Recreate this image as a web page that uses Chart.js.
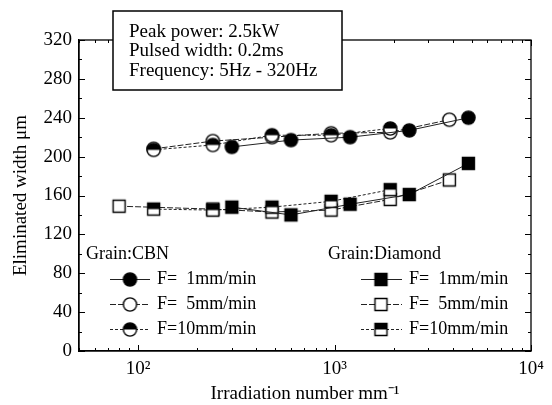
<!DOCTYPE html>
<html>
<head>
<meta charset="utf-8">
<script src="https://cdn.jsdelivr.net/npm/chart.js@4/dist/chart.umd.min.js"></script>
<style>
html,body{margin:0;padding:0;background:#fff;}
#wrap{width:552px;height:405px;}
</style>
</head>
<body>
<div id="wrap"><canvas id="c" width="552" height="405"></canvas></div>
<script>
// ---- data ----
const cbnF1X = [300, 600, 1200, 2400, 4800];
const cbnF1Y = [210, 217, 220, 227, 240];
const cbnF5X = [120, 240, 480, 960, 1920, 3840];
const cbnF5Y = [208, 216, 220, 224, 225, 238];
const cbnF10X = [120, 240, 480, 960, 1920];
const cbnF10Y = [207, 212, 222, 222, 229];
const diaF1X = [300, 600, 1200, 2400, 4800];
const diaF1Y = [148, 140, 151, 161, 193];
const diaF5X = [80, 240, 480, 960, 1920, 3840];
const diaF5Y = [149, 146, 143, 145, 156, 176];
const diaF10X = [120, 240, 480, 960, 1920];
const diaF10Y = [146, 145, 148, 154, 166];
const feedLabels = ['F= 1mm/min', 'F= 5mm/min', 'F=10mm/min'];
const xTickValues = [100, 1000, 10000];
const xTickLabels = ['10\u00B2', '10\u00B3', '10\u2074'];
const infoLines = ['Peak power: 2.5kW', 'Pulsed width: 0.2ms', 'Frequency: 5Hz - 320Hz'];

const FONT = '"Liberation Serif", "Times New Roman", serif';
const FS = 19;
const LFS = 18;

function pts(xs, ys){ return xs.map((x,i)=>({x:x, y:ys[i]})); }

function makeMarker(shape, fill){
  const s = 17, c = document.createElement('canvas');
  c.width = s; c.height = s;
  const g = c.getContext('2d');
  const m = s/2, r = shape === 'circle' ? 6.6 : 6.0;
  g.lineWidth = 1.4; g.strokeStyle = '#000';
  function path(){
    g.beginPath();
    if (shape === 'circle') g.arc(m, m, r, 0, Math.PI*2);
    else g.rect(m-r, m-r, 2*r, 2*r);
  }
  path(); g.fillStyle = fill === 'full' ? '#000' : '#fff'; g.fill();
  if (fill === 'half'){
    g.save(); path(); g.clip();
    g.fillStyle = '#000'; g.fillRect(0, 0, s, m); g.restore();
  }
  path(); g.stroke();
  return c;
}
const mk = {
  cF: makeMarker('circle','full'), cO: makeMarker('circle','open'), cH: makeMarker('circle','half'),
  sF: makeMarker('rect','full'), sO: makeMarker('rect','open'), sH: makeMarker('rect','half')
};
const dashes = [[], [6,2], [3,2]];

function ds(label, xs, ys, marker, dash){
  return { label, data: pts(xs, ys), showLine: true, borderColor: '#222', borderWidth: 1,
    borderDash: dash, pointStyle: marker, pointRadius: 7, pointHoverRadius: 7, backgroundColor:'#000' };
}

const datasets = [
  ds('CBN F=1', cbnF1X, cbnF1Y, mk.cF, dashes[0]),
  ds('Diamond F=1', diaF1X, diaF1Y, mk.sF, dashes[0]),
  ds('CBN F=10', cbnF10X, cbnF10Y, mk.cH, dashes[2]),
  ds('Diamond F=10', diaF10X, diaF10Y, mk.sH, dashes[2]),
  ds('CBN F=5', cbnF5X, cbnF5Y, mk.cO, dashes[1]),
  ds('Diamond F=5', diaF5X, diaF5Y, mk.sO, dashes[1])
];

const decor = {
  id: 'decor',
  afterDraw(chart){
    const g = chart.ctx, a = chart.chartArea;
    const xs = chart.scales.x, ys = chart.scales.y;
    g.save();
    g.strokeStyle = '#000'; g.lineWidth = 1.3;
    g.strokeRect(a.left, a.top, a.right - a.left, a.bottom - a.top);
    g.lineWidth = 1;
    // y ticks (inward, both sides)
    for (let v = 0; v <= 320; v += 20){
      const y = Math.round(ys.getPixelForValue(v)) + 0.5;
      const L = v % 40 === 0 ? 6 : 3;
      g.beginPath();
      g.moveTo(a.left, y); g.lineTo(a.left + L, y);
      g.moveTo(a.right, y); g.lineTo(a.right - L, y);
      g.stroke();
    }
    // x ticks (log, inward, both sides)
    const xt = [];
    for (let d = 10; d <= 10000; d *= 10){
      for (let k = 1; k <= 9; k++){
        const v = d * k;
        if (v >= 50 && v <= 10000) xt.push({v, major: k === 1});
      }
    }
    xt.forEach(t => {
      const x = Math.round(xs.getPixelForValue(t.v)) + 0.5;
      const L = t.major ? 6 : 3;
      g.beginPath();
      g.moveTo(x, a.bottom); g.lineTo(x, a.bottom - L);
      g.moveTo(x, a.top); g.lineTo(x, a.top + L);
      g.stroke();
    });
    // info box
    g.fillStyle = '#fff';
    g.fillRect(113, 11, 229, 79);
    g.lineWidth = 1.5; g.strokeStyle = '#000';
    g.strokeRect(113, 11, 229, 79);
    g.fillStyle = '#000';
    g.font = FS + 'px ' + FONT;
    g.textBaseline = 'middle'; g.textAlign = 'left';
    infoLines.forEach((t, i) => g.fillText(t, 129, 32 + i * 19.5));
    // legend
    g.font = LFS + 'px ' + FONT;
    const cols = [
      {title: 'Grain:CBN', tx: 86, x0: 110, x1: 150, mx: 130, lx: 157, m: [mk.cF, mk.cO, mk.cH]},
      {title: 'Grain:Diamond', tx: 328, x0: 361, x1: 402, mx: 381, lx: 409, m: [mk.sF, mk.sO, mk.sH]}
    ];
    const rowY = [279, 304, 329];
    cols.forEach(c => {
      g.fillStyle = '#000';
      g.fillText(c.title, c.tx, 254);
      rowY.forEach((y, i) => {
        g.strokeStyle = '#222'; g.lineWidth = 1; g.setLineDash(dashes[i]);
        g.beginPath(); g.moveTo(c.x0, y + 0.5); g.lineTo(c.x1, y + 0.5); g.stroke();
        g.setLineDash([]);
        g.drawImage(c.m[i], c.mx - 8.5, y - 8);
        const lab = feedLabels[i];
        const head = lab.slice(0, 2);
        const rest = lab.slice(2).trim();
        g.fillText(head, c.lx, y);
        const w0 = g.measureText(head).width;
        const pad = rest.length < 8 ? g.measureText('0').width : 0;
        g.fillText(rest, c.lx + w0 + pad, y);
      });
    });
    g.restore();
  }
};

new Chart(document.getElementById('c'), {
  type: 'scatter',
  data: { datasets },
  options: {
    responsive: false, animation: false, devicePixelRatio: 1,
    layout: { padding: { left: 0, top: 40, right: 21, bottom: 0 } },
    plugins: { legend: { display: false }, tooltip: { enabled: false } },
    scales: {
      x: {
        type: 'logarithmic', min: 50, max: 10000,
        afterBuildTicks(scale){ scale.ticks = xTickValues.map(v => ({value: v})); },
        afterFit(scale){ scale.height = 54; },
        grid: { display: false, drawTicks: false },
        border: { display: true, color: '#000', width: 1.3 },
        ticks: { autoSkip: false, maxRotation: 0, padding: 7, color: '#000',
          font: { family: FONT, size: FS },
          callback: (v) => { const i = xTickValues.indexOf(v); return i >= 0 ? xTickLabels[i] : ''; } },
        title: { display: true, text: 'Irradiation number mm\u207B\u00B9', color: '#000',
          font: { family: FONT, size: FS }, padding: { top: 0, bottom: 0 } }
      },
      y: {
        min: 0, max: 320,
        afterFit(scale){ scale.width = 79; },
        grid: { display: false, drawTicks: false },
        border: { display: true, color: '#000', width: 1.3 },
        ticks: { stepSize: 40, padding: 7, color: '#000', font: { family: FONT, size: FS } },
        title: { display: true, text: 'Eliminated width \u03BCm', color: '#000',
          font: { family: FONT, size: FS }, padding: { top: 10, bottom: 0 } }
      }
    }
  },
  plugins: [decor]
});
</script>
</body>
</html>
